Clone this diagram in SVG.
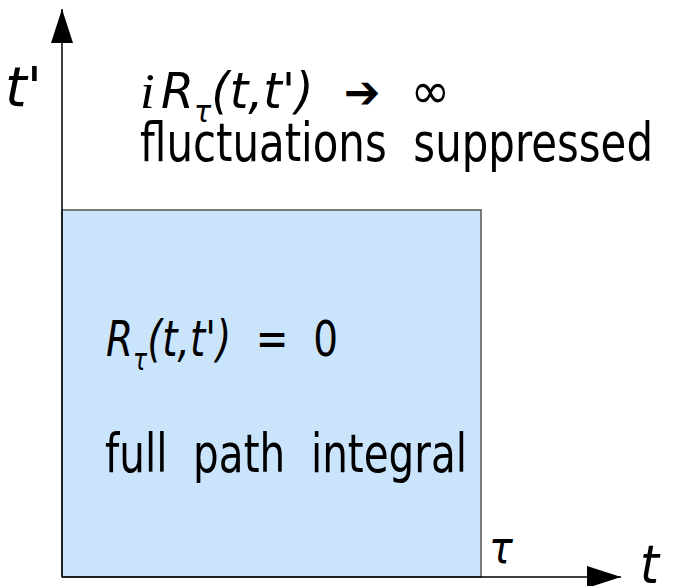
<svg xmlns="http://www.w3.org/2000/svg" width="675" height="586" viewBox="0 0 675 586" xml:space="preserve">
<style>
text{font-family:"DejaVu Sans Condensed","DejaVu Sans",sans-serif;fill:#000;white-space:pre}
.it{font-style:italic}
.ax{stroke:#000;stroke-width:1.5;fill:none}
</style>
<defs>
<marker id="ah" markerWidth="34" markerHeight="22" refX="34" refY="11" orient="auto" markerUnits="userSpaceOnUse">
<path d="M0,0 L34,11 L0,22 Z" fill="#000"/>
</marker>
</defs>
<rect width="675" height="586" fill="#fff"/>
<g id="region">
<rect x="62" y="210" width="419" height="367" fill="#cae4fc" stroke="#555" stroke-width="1.5"/>
</g>
<g id="connectors">
<line class="ax" x1="62" y1="577" x2="62" y2="9" marker-end="url(#ah)"/>
<line class="ax" x1="62" y1="577" x2="621" y2="577" marker-end="url(#ah)"/>
</g>
<g id="labels">
<text class="it" x="5" y="106" font-size="56" textLength="37" lengthAdjust="spacingAndGlyphs">t'</text>
<text x="140" y="108" font-size="50" textLength="310" lengthAdjust="spacingAndGlyphs"><tspan font-family="Liberation Serif" font-style="italic">i</tspan><tspan class="it" dx="6">R</tspan><tspan class="it" font-size="30" dy="14">τ</tspan><tspan class="it" dy="-14">(t,t')</tspan>  <tspan font-size="46">➔</tspan>  ∞</text>
<text x="140" y="161" font-size="54" textLength="513" lengthAdjust="spacingAndGlyphs">fluctuations  suppressed</text>
<text x="106" y="356" font-size="50" textLength="232" lengthAdjust="spacingAndGlyphs"><tspan class="it">R</tspan><tspan class="it" font-size="30" dy="14">τ</tspan><tspan class="it" dy="-14">(t,t')</tspan>  =  0</text>
<text x="105" y="472" font-size="54" textLength="362" lengthAdjust="spacingAndGlyphs">full  path  integral</text>
<text class="it" x="489" y="563" font-size="44">τ</text>
<text class="it" x="640" y="583" font-size="54">t</text>
</g>
</svg>
